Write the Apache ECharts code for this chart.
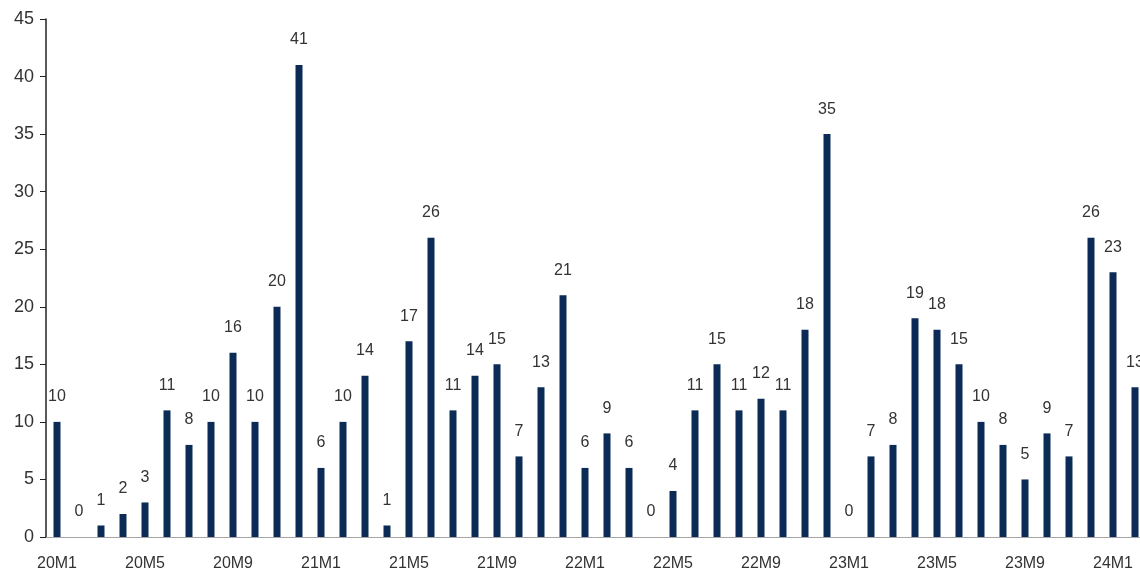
<!DOCTYPE html>
<html>
<head>
<meta charset="utf-8">
<script src="https://cdn.jsdelivr.net/npm/echarts@6/dist/echarts.min.js"></script>
<style>
  html, body { margin: 0; padding: 0; background: #fff; }
  #chart { width: 1140px; height: 574px; }
</style>
</head>
<body>
<div id="chart"></div>
<script>
// meses 20M1 .. 24M2
const categories = [
  "20M1","20M2","20M3","20M4","20M5","20M6","20M7","20M8","20M9","20M10","20M11","20M12",
  "21M1","21M2","21M3","21M4","21M5","21M6","21M7","21M8","21M9","21M10","21M11","21M12",
  "22M1","22M2","22M3","22M4","22M5","22M6","22M7","22M8","22M9","22M10","22M11","22M12",
  "23M1","23M2","23M3","23M4","23M5","23M6","23M7","23M8","23M9","23M10","23M11","23M12",
  "24M1","24M2"
];
const values = [
  10, 0, 1, 2, 3, 11, 8, 10, 16, 10, 20, 41,
  6, 10, 14, 1, 17, 26, 11, 14, 15, 7, 13, 21,
  6, 9, 6, 0, 4, 11, 15, 11, 12, 11, 18, 35,
  0, 7, 8, 19, 18, 15, 10, 8, 5, 9, 7, 26,
  23, 13
];
const yTicks = [0, 5, 10, 15, 20, 25, 30, 35, 40, 45];

const chart = echarts.init(document.getElementById("chart"));

const options = {
  animation: false,
  // el grid sale un poco por la derecha: la ultima barra queda cortada
  grid: { left: 46, width: 1100, top: 19, bottom: 37, outerBoundsMode: "none", containLabel: false },
  xAxis: {
    type: "category",
    data: categories,
    axisLine: { lineStyle: { color: "#a6a6a6", width: 1 } },
    axisTick: { show: false },
    axisLabel: {
      interval: 3,
      color: "#333",
      fontSize: 16,
      fontFamily: "Liberation Sans",
      margin: 19
    }
  },
  yAxis: {
    type: "value",
    min: yTicks[0],
    max: yTicks[yTicks.length - 1],
    interval: 5,
    axisLine: { show: true, lineStyle: { color: "#222", width: 1.5 } },
    axisTick: { show: true, length: 6, lineStyle: { color: "#222" } },
    splitLine: { show: false },
    axisLabel: {
      color: "#333",
      fontSize: 18,
      fontFamily: "Liberation Sans",
      margin: 12
    }
  },
  series: [
    {
      type: "bar",
      data: values,
      barWidth: 7,
      itemStyle: { color: "#0b2a55" },
      label: {
        show: true,
        position: "top",
        distance: 17,
        color: "#333",
        fontSize: 16,
        fontFamily: "Liberation Sans"
      }
    }
  ]
};

chart.setOption(options);
</script>
</body>
</html>
